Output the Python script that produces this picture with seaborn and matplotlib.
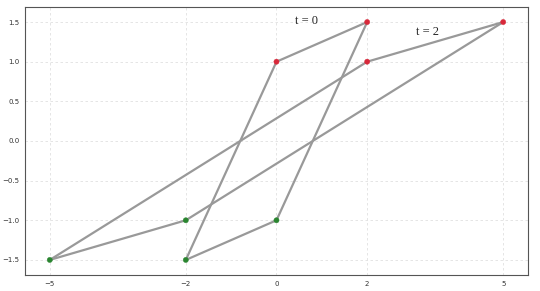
import matplotlib
matplotlib.use("Agg")
import matplotlib.pyplot as plt
import seaborn as sns
import pandas as pd

# Quadrilateral corners at t = 0 and t = 2 (ordered around the shape)
t0_x = [-2, 0, 2, 0]
t0_y = [-1.5, -1, 1.5, 1]
t2_x = [-5, -2, 5, 2]
t2_y = [-1.5, -1, 1.5, 1]

x_ticks = [-5, -2, 0, 2, 5]
y_ticks = [-1.5, -1.0, -0.5, 0.0, 0.5, 1.0, 1.5]

# Build edge table
rows = []
seg = 0
for name, xs, ys in [("t0", t0_x, t0_y), ("t2", t2_x, t2_y)]:
    n = len(xs)
    for i in range(n):
        j = (i + 1) % n
        rows.append({"seg": seg, "x": xs[i], "y": ys[i]})
        rows.append({"seg": seg, "x": xs[j], "y": ys[j]})
        seg += 1
edges = pd.DataFrame(rows)

pts = pd.DataFrame({
    "x": t0_x + t2_x,
    "y": t0_y + t2_y,
})
pts["side"] = ["top" if v > 0 else "bottom" for v in pts["y"]]

sns.set_style("white")
fig, ax = plt.subplots(figsize=(5.4, 2.91), dpi=100)
fig.subplots_adjust(left=0.046, right=0.978, top=0.976, bottom=0.055)

sns.lineplot(data=edges, x="x", y="y", units="seg", estimator=None, sort=False,
             color="#999999", linewidth=1.6, ax=ax, zorder=2)
sns.scatterplot(data=pts, x="x", y="y", hue="side",
                palette={"top": "#d8283a", "bottom": "#2a8530"},
                edgecolor=None, s=14, ax=ax, legend=False, zorder=3)

ax.text(0.67, 1.51, "t = 0", family="Liberation Serif", fontsize=9, ha="center", va="center")
ax.text(3.32, 1.37, "t = 2", family="Liberation Serif", fontsize=9, ha="center", va="center")

ax.set_xticks(x_ticks)
ax.set_xticklabels([f"{v}".replace("-", "\u2212") for v in x_ticks])
ax.set_yticks(y_ticks)
ax.set_xlim(-5.55, 5.55)
ax.set_ylim(-1.69, 1.69)
ax.set_xlabel("")
ax.set_ylabel("")
ax.grid(True, color="#e0e0e0", linestyle=(0, (3, 3)), linewidth=0.6)
ax.tick_params(labelsize=5, length=2, width=0.6, colors="#333333", pad=2)
for s in ax.spines.values():
    s.set_color("#555555")
    s.set_linewidth(0.8)
ax.set_axisbelow(True)

fig.savefig("out.png", dpi=100)
